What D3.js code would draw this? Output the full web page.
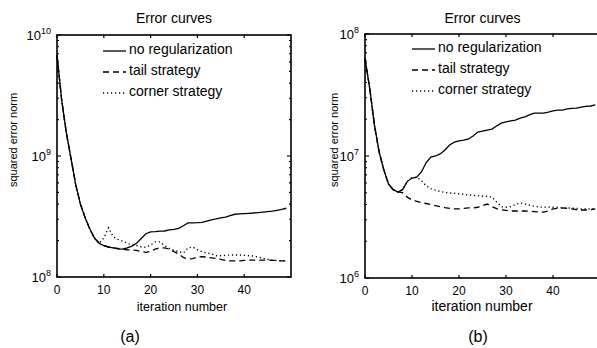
<!DOCTYPE html>
<html>
<head>
<meta charset="utf-8">
<script src="https://cdn.jsdelivr.net/npm/d3@7/dist/d3.min.js"></script>
<style>
  body { margin: 0; background: #fff; }
  svg { display: block; }
  text { font-family: "Liberation Sans", Arial, sans-serif; fill: #000; }
</style>
</head>
<body>
<script>
// iterations 0..49
var iterations = d3.range(0, 50);
var seriesNames = ['no regularization', 'tail strategy', 'corner strategy'];
var xTicks = [0, 10, 20, 30, 40];

// panel (a)
var noRegA = [6.8e9, 2.9e9, 1.55e9, 9.5e8, 5.8e8, 4.0e8, 3.1e8, 2.5e8, 2.1e8, 1.9e8,
  1.82e8, 1.77e8, 1.74e8, 1.71e8, 1.70e8, 1.74e8, 1.8e8, 1.9e8, 2.08e8, 2.28e8,
  2.36e8, 2.37e8, 2.39e8, 2.4e8, 2.45e8, 2.48e8, 2.52e8, 2.65e8, 2.8e8, 2.8e8,
  2.81e8, 2.83e8, 2.9e8, 2.97e8, 3.02e8, 3.08e8, 3.13e8, 3.22e8, 3.3e8, 3.32e8,
  3.34e8, 3.36e8, 3.38e8, 3.41e8, 3.44e8, 3.47e8, 3.5e8, 3.56e8, 3.62e8, 3.7e8];
var tailA = [6.8e9, 2.9e9, 1.55e9, 9.5e8, 5.8e8, 4.0e8, 3.1e8, 2.5e8, 2.1e8, 1.9e8,
  1.82e8, 1.77e8, 1.74e8, 1.72e8, 1.70e8, 1.68e8, 1.67e8, 1.66e8, 1.62e8, 1.60e8,
  1.63e8, 1.70e8, 1.74e8, 1.74e8, 1.70e8, 1.62e8, 1.55e8, 1.45e8, 1.41e8, 1.42e8,
  1.46e8, 1.47e8, 1.46e8, 1.44e8, 1.42e8, 1.40e8, 1.37e8, 1.36e8, 1.36e8, 1.36e8,
  1.37e8, 1.38e8, 1.38e8, 1.38e8, 1.38e8, 1.38e8, 1.37e8, 1.37e8, 1.36e8, 1.36e8];
var cornerA = [6.8e9, 2.9e9, 1.55e9, 9.5e8, 5.8e8, 4.0e8, 3.1e8, 2.5e8, 2.1e8, 1.9e8,
  2.1e8, 2.55e8, 2.15e8, 2.05e8, 1.98e8, 1.9e8, 1.84e8, 1.82e8, 1.78e8, 1.76e8,
  1.84e8, 1.95e8, 1.95e8, 1.82e8, 1.72e8, 1.66e8, 1.62e8, 1.58e8, 1.74e8, 1.77e8,
  1.68e8, 1.62e8, 1.58e8, 1.55e8, 1.50e8, 1.50e8, 1.51e8, 1.52e8, 1.52e8, 1.52e8,
  1.51e8, 1.50e8, 1.49e8, 1.46e8, 1.43e8, 1.40e8, 1.38e8, 1.37e8, 1.36e8, 1.36e8];

// panel (b)
var noRegB = [6.3e7, 3.6e7, 1.8e7, 1.08e7, 7.7e6, 5.9e6, 5.3e6, 5.07e6, 5.3e6, 6.2e6,
  6.6e6, 6.7e6, 7.4e6, 8.8e6, 9.8e6, 1.0e7, 1.04e7, 1.12e7, 1.23e7, 1.3e7,
  1.33e7, 1.35e7, 1.38e7, 1.46e7, 1.57e7, 1.6e7, 1.63e7, 1.66e7, 1.76e7, 1.86e7,
  1.9e7, 1.94e7, 1.97e7, 2.04e7, 2.09e7, 2.17e7, 2.25e7, 2.25e7, 2.25e7, 2.29e7,
  2.34e7, 2.38e7, 2.38e7, 2.43e7, 2.46e7, 2.47e7, 2.52e7, 2.55e7, 2.57e7, 2.62e7];
var tailB = [6.3e7, 3.6e7, 1.8e7, 1.08e7, 7.7e6, 5.9e6, 5.3e6, 5.07e6, 5.0e6, 4.6e6,
  4.36e6, 4.25e6, 4.15e6, 4.08e6, 4.0e6, 3.92e6, 3.85e6, 3.78e6, 3.72e6, 3.68e6,
  3.68e6, 3.72e6, 3.75e6, 3.75e6, 3.8e6, 3.92e6, 4.04e6, 3.85e6, 3.7e6, 3.62e6,
  3.58e6, 3.54e6, 3.54e6, 3.54e6, 3.54e6, 3.52e6, 3.5e6, 3.48e6, 3.47e6, 3.55e6,
  3.68e6, 3.72e6, 3.75e6, 3.72e6, 3.68e6, 3.64e6, 3.61e6, 3.61e6, 3.64e6, 3.68e6];
var cornerB = [6.3e7, 3.6e7, 1.8e7, 1.08e7, 7.7e6, 5.9e6, 5.3e6, 5.07e6, 5.3e6, 6.2e6,
  6.6e6, 6.7e6, 6.3e6, 5.7e6, 5.4e6, 5.25e6, 5.12e6, 5.02e6, 4.98e6, 4.95e6,
  4.9e6, 4.85e6, 4.8e6, 4.76e6, 4.72e6, 4.7e6, 4.66e6, 4.62e6, 4.2e6, 3.85e6,
  3.8e6, 3.85e6, 4.0e6, 4.12e6, 4.05e6, 3.95e6, 3.88e6, 3.82e6, 3.8e6, 3.82e6,
  3.8e6, 3.78e6, 3.76e6, 3.75e6, 3.74e6, 3.72e6, 3.68e6, 3.68e6, 3.68e6, 3.68e6];

var svg = d3.select('body').append('svg')
  .attr('width', 597)
  .attr('height', 348);

var dashes = [null, '6,4', '1.2,2.8'];

function drawPanel(p) {
  var x = d3.scaleLinear().domain([0, 50]).range([p.left, p.right]);
  var y = d3.scaleLog().domain([p.lo, p.hi]).range([p.bottom, p.top]);
  var g = svg.append('g');
  var showRight = p.right < 597;

  // data lines
  var line = d3.line()
    .x(function(d, i) { return x(iterations[i]); })
    .y(function(d) { return y(d); });
  p.series.forEach(function(s, k) {
    g.append('path')
      .attr('d', line(s))
      .attr('fill', 'none')
      .attr('stroke', '#000')
      .attr('stroke-width', k == 2 ? 1.4 : 1.3)
      .attr('stroke-dasharray', dashes[k]);
  });

  // box
  g.append('rect')
    .attr('x', p.left).attr('y', p.top)
    .attr('width', p.right - p.left).attr('height', p.bottom - p.top)
    .attr('fill', 'none').attr('stroke', '#000').attr('stroke-width', 1.6);

  // x ticks, bottom and top, inward
  xTicks.forEach(function(t) {
    g.append('line').attr('x1', x(t)).attr('x2', x(t))
      .attr('y1', p.bottom).attr('y2', p.bottom - 3)
      .attr('stroke', '#000').attr('stroke-width', 1.2);
    g.append('line').attr('x1', x(t)).attr('x2', x(t))
      .attr('y1', p.top).attr('y2', p.top + 3)
      .attr('stroke', '#000').attr('stroke-width', 1.2);
    g.append('text')
      .attr('x', x(t)).attr('y', p.bottom + 17)
      .attr('text-anchor', 'middle')
      .attr('font-size', 12)
      .text(t);
  });

  // y ticks (major + minor log ticks) both sides
  y.ticks().forEach(function(v) {
    var e = Math.log10(v);
    var major = Math.abs(e - Math.round(e)) < 1e-9;
    var len = major ? 4 : 2;
    g.append('line').attr('x1', p.left).attr('x2', p.left + len)
      .attr('y1', y(v)).attr('y2', y(v))
      .attr('stroke', '#000').attr('stroke-width', 1.1);
    if (showRight) {
      g.append('line').attr('x1', p.right).attr('x2', p.right - len)
        .attr('y1', y(v)).attr('y2', y(v))
        .attr('stroke', '#000').attr('stroke-width', 1.1);
    }
    if (major) {
      var lab = g.append('text')
        .attr('x', p.left - 6).attr('y', y(v) + 5)
        .attr('text-anchor', 'end')
        .attr('font-size', 13);
      lab.append('tspan').text('10');
      lab.append('tspan').attr('dy', -6).attr('font-size', 9).text(Math.round(e));
    }
  });

  // title
  g.append('text')
    .attr('x', (p.left + p.right) / 2).attr('y', 23)
    .attr('text-anchor', 'middle')
    .attr('font-size', 14)
    .text('Error curves');

  // axis labels
  g.append('text')
    .attr('x', p.xlabX).attr('y', 311)
    .attr('text-anchor', 'middle')
    .attr('font-size', p.xlabSize)
    .text('iteration number');
  g.append('text')
    .attr('transform', 'translate(' + p.ylabX + ',140) rotate(-90)')
    .attr('text-anchor', 'middle')
    .attr('font-size', 11)
    .text('squared error norm');

  // legend
  seriesNames.forEach(function(name, k) {
    var ly = p.legY + k * 21;
    g.append('line')
      .attr('x1', p.legX).attr('x2', p.legX + 23)
      .attr('y1', ly + 2).attr('y2', ly + 2)
      .attr('stroke', '#000').attr('stroke-width', 1.3)
      .attr('stroke-dasharray', dashes[k]);
    g.append('text')
      .attr('x', p.legX + 26).attr('y', ly + 5)
      .attr('font-size', 14)
      .text(name);
  });

  // panel caption
  svg.append('text')
    .attr('x', p.capX).attr('y', 342)
    .attr('text-anchor', 'middle')
    .attr('font-family', '"Liberation Serif", "Times New Roman", serif')
    .attr('font-size', 16)
    .text(p.caption);
}

drawPanel({
  left: 57, right: 291, top: 35, bottom: 277,
  lo: 1e8, hi: 1e10,
  series: [noRegA, tailA, cornerA],
  legX: 103, legY: 49,
  xlabX: 182, xlabSize: 12.5, ylabX: 17,
  capX: 130, caption: '(a)'
});

drawPanel({
  left: 365, right: 600, top: 34, bottom: 278,
  lo: 1e6, hi: 1e8,
  series: [noRegB, tailB, cornerB],
  legX: 412, legY: 47,
  xlabX: 482, xlabSize: 14, ylabX: 338,
  capX: 478, caption: '(b)'
});
</script>
</body>
</html>
